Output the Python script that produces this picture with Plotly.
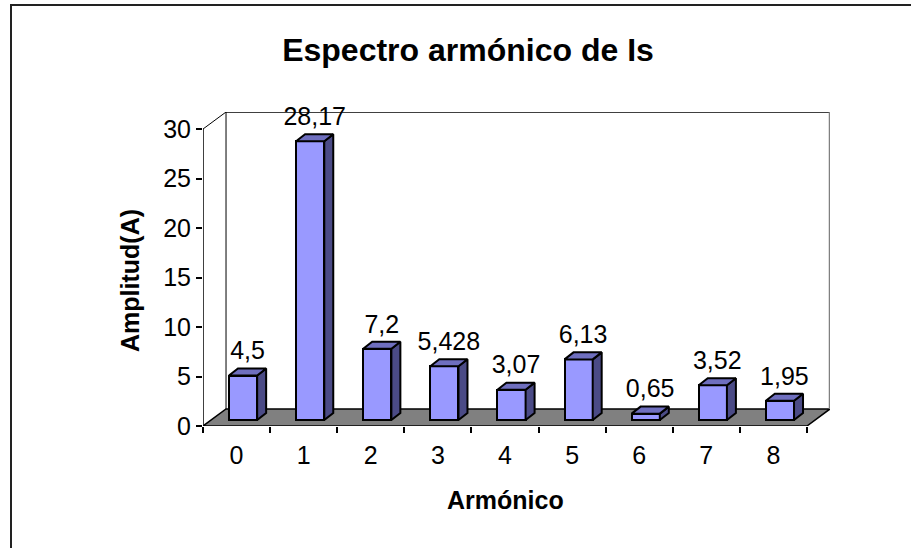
import plotly.graph_objects as go

# Harmonic spectrum of the source current Is
harmonics = ["0", "1", "2", "3", "4", "5", "6", "7", "8"]
amplitudes = [4.5, 28.17, 7.2, 5.428, 3.07, 6.13, 0.65, 3.52, 1.95]
y_ticks = [0, 5, 10, 15, 20, 25, 30]

labels = [str(v).replace(".", ",") for v in amplitudes]
pos = list(range(len(harmonics)))

FONT = "Arial, Liberation Sans, sans-serif"

# pseudo-3D geometry, in axis units
X_LO = -0.5
X_HI = len(harmonics) - 0.5
Y_TOP = max(y_ticks)
DEPTH_X, DEPTH_Y = 0.343, 1.72      # floor / wall depth
BAR_SHIFT = 0.097                   # bar front face shift from category centre
BAR_BASE = 0.6                      # bar front face sits slightly behind the front edge
BAR_W = 0.42
BAR_DX, BAR_DY = 0.134, 0.71        # bar depth
LABEL_GAP = 0.3                     # extra space between bar top and its value label

FRONT = "#9999FF"
TOP = "#6F6FBF"
SIDE = "#4B4B86"

# plot area in pixels
W, H = 911, 548
L, R, T, B = 203, 830, 112, 426


def paper_x(p):
    return (p - L) / (R - L)


def paper_y(p):
    return (B - p) / (B - T)


fig = go.Figure()

# front faces of the bars
fig.add_trace(go.Bar(
    x=pos, y=amplitudes, base=BAR_BASE, width=BAR_W,
    offset=BAR_SHIFT - BAR_W / 2,
    marker=dict(color=FRONT, line=dict(color="black", width=2)),
    hoverinfo="skip", showlegend=False,
))

# side and top faces
side_x, side_y, top_x, top_y = [], [], [], []
for i, v in zip(pos, amplitudes):
    x0 = i + BAR_SHIFT - BAR_W / 2
    x1 = x0 + BAR_W
    y0 = BAR_BASE
    y1 = BAR_BASE + v
    side_x += [x1, x1 + BAR_DX, x1 + BAR_DX, x1, x1, None]
    side_y += [y0, y0 + BAR_DY, y1 + BAR_DY, y1, y0, None]
    top_x += [x0, x1, x1 + BAR_DX, x0 + BAR_DX, x0, None]
    top_y += [y1, y1, y1 + BAR_DY, y1 + BAR_DY, y1, None]

for xs, ys, col in ((side_x, side_y, SIDE), (top_x, top_y, TOP)):
    fig.add_trace(go.Scatter(
        x=xs, y=ys, mode="lines", fill="toself", fillcolor=col,
        line=dict(color="black", width=2), hoverinfo="skip", showlegend=False,
    ))

# value labels
fig.add_trace(go.Scatter(
    x=[i + BAR_SHIFT + BAR_DX / 2 for i in pos],
    y=[BAR_BASE + v + BAR_DY + LABEL_GAP for v in amplitudes],
    text=labels, mode="text", textposition="top center",
    textfont=dict(family=FONT, size=25, color="black"),
    cliponaxis=False, hoverinfo="skip", showlegend=False,
))

# floor, walls and axis lines
shapes = [
    dict(type="path", layer="below",
         path=(f"M {X_LO},0 L {X_HI},0 L {X_HI + DEPTH_X},{DEPTH_Y} "
               f"L {X_LO + DEPTH_X},{DEPTH_Y} Z"),
         fillcolor="#808080", line=dict(color="black", width=1.5)),
    dict(type="line", layer="below", x0=X_LO + DEPTH_X, x1=X_HI + DEPTH_X,
         y0=Y_TOP + DEPTH_Y, y1=Y_TOP + DEPTH_Y, line=dict(color="black", width=1.5)),
    dict(type="line", layer="below", x0=X_HI + DEPTH_X, x1=X_HI + DEPTH_X,
         y0=DEPTH_Y, y1=Y_TOP + DEPTH_Y, line=dict(color="#808080", width=2.5)),
    dict(type="line", layer="below", x0=X_LO + DEPTH_X, x1=X_LO + DEPTH_X,
         y0=DEPTH_Y, y1=Y_TOP + DEPTH_Y, line=dict(color="black", width=1)),
    dict(type="line", layer="below", x0=X_LO, x1=X_LO + DEPTH_X,
         y0=Y_TOP, y1=Y_TOP + DEPTH_Y, line=dict(color="black", width=1)),
    dict(type="line", layer="below", x0=X_LO, x1=X_LO,
         y0=0, y1=Y_TOP, line=dict(color="black", width=1.5)),
    # chart border
    dict(type="rect", xref="paper", yref="paper",
         x0=paper_x(11), x1=paper_x(W + 20), y0=paper_y(5), y1=paper_y(H + 20),
         line=dict(color="#222222", width=2), fillcolor="rgba(0,0,0,0)"),
]

annotations = [
    dict(text="<b>Amplitud(A)</b>", xref="paper", yref="paper",
         x=paper_x(130), y=paper_y(281), xanchor="center", yanchor="middle",
         textangle=-90, showarrow=False,
         font=dict(family=FONT, size=25, color="black")),
    dict(text="<b>Armónico</b>", xref="paper", yref="paper",
         x=paper_x(505), y=paper_y(500), xanchor="center", yanchor="middle",
         showarrow=False,
         font=dict(family=FONT, size=25, color="black")),
]

fig.update_layout(
    width=W, height=H,
    margin=dict(l=L, r=W - R, t=T, b=H - B, autoexpand=False),
    paper_bgcolor="white", plot_bgcolor="white",
    title=dict(text="<b>Espectro armónico de Is</b>", x=468 / W, xref="container",
               xanchor="center", y=1 - 50 / H, yref="container", yanchor="middle",
               font=dict(family=FONT, size=32, color="black")),
    xaxis=dict(range=[X_LO, X_HI + DEPTH_X], tickmode="array", tickvals=pos,
               ticktext=harmonics, ticks="", showgrid=False, zeroline=False,
               showline=False, tickfont=dict(family=FONT, size=25, color="black"),
               ticklabelstandoff=12,
               minor=dict(tickmode="array", tickvals=[p - 0.5 for p in pos] + [X_HI],
                          ticks="outside", ticklen=6, tickwidth=1.5, tickcolor="black",
                          showgrid=False),
               fixedrange=True),
    yaxis=dict(range=[0, Y_TOP + DEPTH_Y], tickmode="array", tickvals=y_ticks,
               ticks="outside", ticklen=6, tickwidth=1.5, tickcolor="black",
               showgrid=False, zeroline=False, showline=False,
               tickfont=dict(family=FONT, size=25, color="black"), fixedrange=True),
    shapes=shapes,
    annotations=annotations,
    bargap=0,
)

fig.write_html("out.html")
